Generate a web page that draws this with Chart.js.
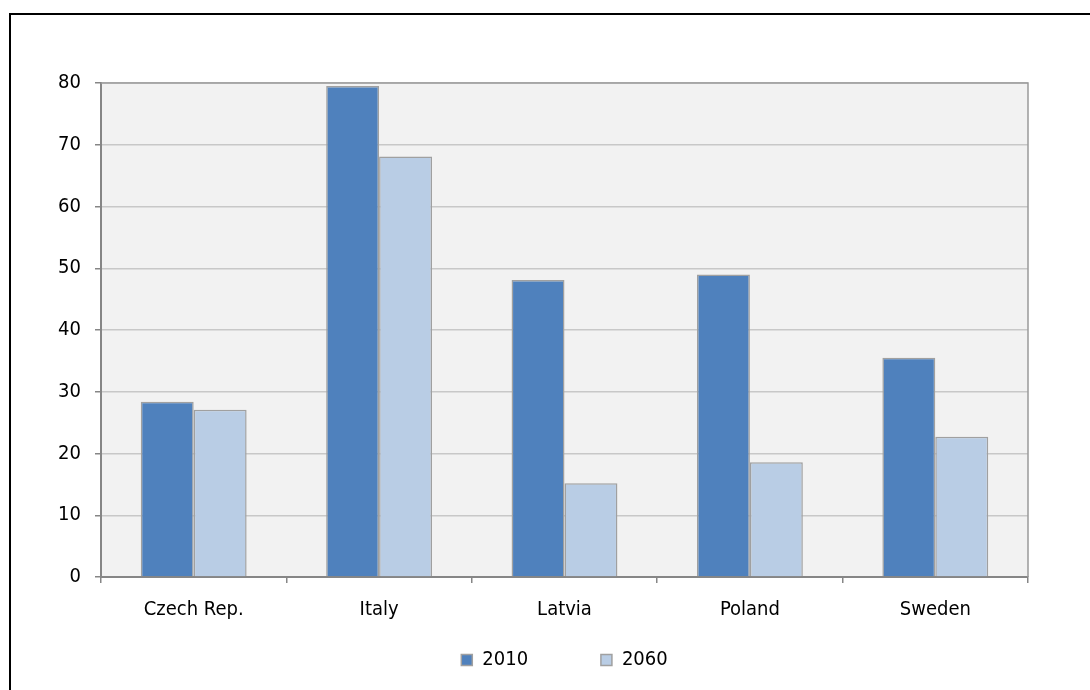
<!DOCTYPE html>
<html>
<head>
<meta charset="utf-8">
<script src="https://cdn.jsdelivr.net/npm/chart.js@4"></script>
<style>
    body { margin: 0; background: #fff; }
    #frame {
        position: absolute; left: 9px; top: 13px; width: 1100px; height: 700px;
        border-top: 2px solid #000; border-left: 2px solid #000;
    }
    #wrap { position: absolute; left: 0; top: 0; width: 1090px; height: 690px; }
</style>
</head>
<body>
<div id="frame"></div>
<div id="wrap"><canvas id="chart" width="1090" height="690"></canvas></div>
<script>
// Chart data
const countries = ['Czech Rep.', 'Italy', 'Latvia', 'Poland', 'Sweden'];
const values2010 = [28.4, 79.5, 48.1, 49.0, 35.5];
const values2060 = [27.1, 68.1, 15.2, 18.6, 22.7];
const yTicks = [0, 10, 20, 30, 40, 50, 60, 70, 80];

const FONT = "'Liberation Sans Narrow', 'DejaVu Sans Condensed', 'Arial Narrow', sans-serif";

// Grey plot background and top/right border
const plotArea = {
    id: 'plotArea',
    beforeDraw(chart) {
        const { ctx, chartArea: a } = chart;
        ctx.save();
        ctx.fillStyle = '#f2f2f2';
        ctx.fillRect(a.left, a.top, a.right - a.left, a.bottom - a.top);
        ctx.restore();
    },
    afterDatasetsDraw(chart) {
        const { ctx, chartArea: a } = chart;
        ctx.save();
        ctx.strokeStyle = '#9a9a9a';
        ctx.lineWidth = 1.5;
        ctx.beginPath();
        ctx.moveTo(a.left, a.top);
        ctx.lineTo(a.right, a.top);
        ctx.lineTo(a.right, a.bottom);
        ctx.stroke();
        ctx.restore();
    }
};

const ctx = document.getElementById('chart').getContext('2d');
new Chart(ctx, {
    type: 'bar',
    data: {
        labels: countries,
        datasets: [
            {
                label: '2010',
                data: values2010,
                backgroundColor: '#4f81bd',
                borderColor: '#a0a0a0',
                borderWidth: 1.5,
                categoryPercentage: 0.571,
                barPercentage: 1.0
            },
            {
                label: '2060',
                data: values2060,
                backgroundColor: '#b9cde5',
                borderColor: '#a0a0a0',
                borderWidth: 1.5,
                categoryPercentage: 0.571,
                barPercentage: 1.0
            }
        ]
    },
    options: {
        responsive: false,
        animation: false,
        layout: {
            padding: { left: 0, right: 62, top: 83, bottom: 10 }
        },
        plugins: {
            legend: {
                position: 'bottom',
                fullSize: false,
                labels: {
                    color: '#000',
                    font: { family: FONT, size: 20 },
                    boxWidth: 11,
                    boxHeight: 11,
                    padding: 10,
                    generateLabels(chart) {
                        const items = Chart.defaults.plugins.legend.labels.generateLabels(chart);
                        // wide gap between the two entries, as in the original
                        items[0].text = items[0].text + '\u00a0'.repeat(11);
                        return items;
                    }
                }
            },
            tooltip: { enabled: false }
        },
        scales: {
            x: {
                offset: true,
                afterFit(scale) { scale.height = 63; },
                grid: {
                    offset: true,
                    drawOnChartArea: false,
                    drawTicks: true,
                    tickLength: 6,
                    color: '#868686',
                    lineWidth: 1.5
                },
                border: { color: '#868686', width: 2 },
                ticks: {
                    color: '#000',
                    font: { family: FONT, size: 20 },
                    padding: 15
                }
            },
            y: {
                min: 0,
                max: 80,
                afterFit(scale) { scale.width = 101; },
                afterBuildTicks(scale) { scale.ticks = yTicks.map(v => ({ value: v })); },
                grid: {
                    color: '#c8c8c8',
                    lineWidth: 1.5,
                    tickLength: 6,
                    tickColor: '#868686'
                },
                border: { color: '#868686', width: 2 },
                ticks: {
                    color: '#000',
                    font: { family: FONT, size: 20 },
                    padding: 14
                }
            }
        }
    },
    plugins: [plotArea]
});
</script>
</body>
</html>
